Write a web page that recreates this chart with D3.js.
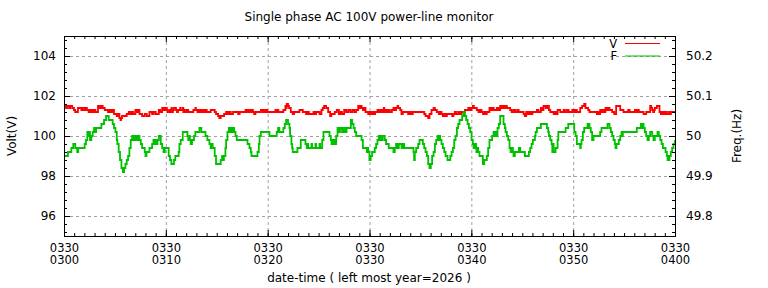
<!DOCTYPE html>
<html>
<head>
<meta charset="utf-8">
<script src="https://cdn.jsdelivr.net/npm/d3@7"></script>
<style>
  body { margin: 0; background: #fff; }
  text { font-family: "DejaVu Sans", sans-serif; font-size: 12px; fill: #000; }
  .xt, .lg { font-size: 11.5px; }
</style>
</head>
<body>
<svg id="chart" width="768" height="288"></svg>
<script>
// minutes after 03:00 -> value, sampled as steps
const voltSeries = [
  [0,101.5],[0.2,101.4],[0.3,101.5],[0.5,101.4],[0.6,101.5],[0.8,101.4],[0.98,101.3],[1.1,101.2],[1.37,101.4],[1.7,101.3],[1.8,101.4],[1.95,101.3],[2.1,101.4],[2.25,101.3],[2.42,101.2],[2.6,101.3],[2.75,101.2],[2.9,101.3],[3.08,101.2],[3.34,101.5],[3.5,101.4],[3.65,101.5],[3.8,101.4],[4.0,101.3],[4.32,101.2],[4.45,101.3],[4.6,101.2],[4.75,101.3],[4.91,101.1],[5.18,101.0],[5.3,101.1],[5.44,100.9],[5.55,100.8],[5.6,100.9],[5.7,101.0],[6.16,101.1],[6.36,101.2],[6.5,101.1],[6.65,101.2],[6.8,101.1],[7.01,101.3],[7.15,101.2],[7.3,101.3],[7.41,101.1],[7.67,101.0],[7.93,101.1],[8.13,101.0],[8.39,101.2],[8.65,101.1],[8.8,101.2],[9.0,101.1],[9.31,101.3],[9.45,101.2],[9.64,101.4],[9.8,101.3],[9.95,101.4],[10.1,101.3],
  [10.15,101.2],[10.34,101.3],[10.45,101.2],[10.55,101.4],[10.6,101.2],[10.7,101.3],[10.8,101.4],[11.0,101.3],[11.1,101.2],[11.2,101.3],[11.4,101.4],[11.45,101.3],[11.66,101.4],[11.72,101.2],[11.79,101.3],[11.95,101.2],[12.1,101.3],[12.2,101.2],[12.7,101.3],[12.9,101.4],[12.95,101.3],[13.1,101.2],[13.25,101.3],[13.4,101.2],[13.49,101.3],[13.6,101.2],[13.7,101.3],[13.8,101.2],[13.9,101.3],[14.02,101.2],[14.41,101.3],[14.8,101.2],[14.93,101.1],[15.13,101.0],[15.25,100.9],[15.39,101.0],[15.72,101.1],[15.92,101.2],[16.1,101.1],[16.25,101.2],[16.38,101.1],[16.6,101.2],[17.1,101.1],[17.25,101.2],[17.82,101.3],[17.95,101.2],[18.1,101.3],[18.25,101.2],[18.4,101.3],[18.55,101.2],[18.67,101.1],[18.8,101.2],[19.33,101.3],[19.52,101.2],[19.6,101.3],[19.72,101.2],
  [19.84,101.3],[19.95,101.2],[20.76,101.3],[20.85,101.2],[20.95,101.3],[21.05,101.2],[21.54,101.3],[21.74,101.5],[21.8,101.4],[21.87,101.6],[22.0,101.5],[22.1,101.4],[22.27,101.2],[22.46,101.1],[22.6,101.2],[23.12,101.3],[23.45,101.2],[23.77,101.1],[23.9,101.2],[24.05,101.1],[24.5,101.2],[24.6,101.1],[24.76,101.2],[25.09,101.1],[25.28,101.3],[25.41,101.4],[25.54,101.5],[25.74,101.4],[25.94,101.2],[26.13,101.0],[26.25,101.1],[26.59,101.2],[26.79,101.3],[26.99,101.1],[27.15,101.2],[27.3,101.1],[27.51,101.3],[27.7,101.2],[27.9,101.3],[28.1,101.2],[28.3,101.3],[28.5,101.2],[28.69,101.3],[28.89,101.5],[29.0,101.4],[29.1,101.5],[29.22,101.4],[29.35,101.3],[29.5,101.4],[29.61,101.2],[29.87,101.1],[30.0,101.2],[30.15,101.1],
  [30.3,101.2],[30.45,101.1],[30.55,101.2],[30.78,101.3],[30.9,101.2],[31.05,101.3],[31.17,101.2],[31.3,101.3],[31.4,101.4],[31.45,101.2],[31.6,101.3],[31.7,101.2],[31.83,101.3],[32.0,101.2],[32.2,101.3],[32.35,101.4],[32.5,101.3],[32.61,101.4],[32.75,101.5],[32.82,101.4],[33.01,101.3],[33.14,101.1],[33.27,101.2],[33.79,101.1],[33.95,101.2],[34.1,101.1],[34.25,101.2],[35.37,101.1],[35.5,101.0],[35.76,100.9],[35.89,101.1],[36.09,101.3],[36.29,101.4],[36.42,101.3],[36.61,101.2],[36.81,101.1],[36.95,101.2],[37.07,101.1],[37.2,101.0],[37.35,101.1],[37.5,101.0],[37.6,101.1],[38.12,101.0],[38.25,101.1],[38.38,101.2],[38.55,101.1],[38.75,101.2],[38.9,101.1],[39.04,101.2],[39.37,101.3],[39.7,101.4],[39.85,101.3],[40.02,101.4],[40.15,101.5],[40.25,101.4],
  [40.34,101.4],[40.54,101.3],[40.7,101.2],[40.85,101.3],[41.0,101.2],[41.15,101.1],[41.3,101.2],[41.4,101.1],[41.52,101.2],[41.78,101.4],[41.9,101.3],[42.05,101.4],[42.2,101.3],[42.5,101.4],[42.65,101.3],[42.83,101.5],[43.0,101.4],[43.15,101.5],[43.3,101.4],[43.4,101.5],[43.49,101.4],[43.81,101.3],[43.95,101.2],[44.14,101.3],[44.3,101.2],[44.5,101.3],[44.65,101.2],[45.13,101.1],[45.25,101.0],[45.39,101.2],[45.55,101.1],[45.7,101.2],[45.85,101.1],[46.0,101.2],[46.44,101.3],[46.6,101.2],[46.83,101.4],[46.95,101.3],[47.09,101.5],[47.3,101.4],[47.45,101.5],[47.62,101.3],[47.75,101.2],[48.08,101.1],[48.2,101.2],[48.35,101.1],[48.47,101.3],[48.73,101.2],[49.06,101.3],[49.2,101.2],[49.4,101.3],[49.55,101.2],[49.91,101.3],[50.05,101.2],[50.2,101.3],
  [50.36,101.2],[50.69,101.4],[50.88,101.5],[51.08,101.6],[51.21,101.4],[51.47,101.3],[51.6,101.2],[52.32,101.1],[52.45,101.2],[52.55,101.1],[52.65,101.3],[52.8,101.2],[52.95,101.3],[53.05,101.2],[53.17,101.4],[53.3,101.3],[53.45,101.4],[53.57,101.3],[53.83,101.2],[54.03,101.1],[54.22,101.5],[54.62,101.3],[54.94,101.2],[55.4,101.3],[55.55,101.2],[56.06,101.3],[56.2,101.2],[56.35,101.3],[56.45,101.2],[56.91,101.1],[57.17,101.2],[57.56,101.5],[57.66,101.4],[57.76,101.3],[57.85,101.2],[57.95,101.3],[58.02,101.4],[58.22,101.5],[58.48,101.2],[58.61,101.1],[58.75,101.2],[58.9,101.1],[59.0,101.2],[59.13,101.1],[59.33,101.2],[59.45,101.1],[59.6,101.2],[60,101.2]
];

const freqSeries = [
  [0,49.95],[0.39,49.96],[0.72,49.97],[0.91,49.98],[1.11,49.97],[1.3,49.96],[1.4,49.97],[2.03,49.98],[2.16,49.99],[2.29,50.01],[2.35,50.00],[2.4,50.01],[2.55,49.99],[2.69,50.00],[2.82,50.01],[2.95,50.02],[3.0,50.01],[3.05,50.02],[3.1,50.01],[3.15,50.02],[3.67,50.03],[3.93,50.04],[4.13,50.05],[4.39,50.04],[4.78,50.03],[4.91,50.02],[5.05,50.01],[5.18,49.99],[5.24,49.98],[5.37,49.96],[5.5,49.94],[5.64,49.92],[5.77,49.91],[5.9,49.92],[6.03,49.93],[6.16,49.94],[6.29,49.95],[6.42,49.97],[6.55,49.99],[6.69,50.00],[6.8,49.99],[6.9,50.00],[7.0,49.99],[7.1,50.00],[7.25,49.99],[7.3,50.00],[7.41,49.99],[7.54,49.98],[7.67,49.97],[7.93,49.96],[8.0,49.95],[8.1,49.96],[8.39,49.97],[8.65,49.98],[8.78,49.99],[8.85,49.98],[8.95,49.99],[9.05,49.98],[9.18,49.99],[9.31,50.00],[9.5,49.98],[9.64,49.97],[9.77,49.96],[9.9,49.97],
  [10.28,49.95],[10.41,49.94],[10.54,49.93],[10.8,49.94],[10.93,49.95],[11.26,49.96],[11.33,49.98],[11.46,49.99],[11.66,50.01],[12.12,50.00],[12.2,49.99],[12.28,50.00],[12.36,49.99],[12.44,49.98],[12.57,49.99],[12.77,50.00],[12.9,50.01],[13.3,50.02],[13.49,50.01],[13.89,50.00],[14.08,49.99],[14.28,49.98],[14.4,49.97],[14.5,49.98],[14.6,49.97],[14.8,49.95],[14.93,49.93],[15.39,49.94],[15.52,49.95],[15.6,49.94],[15.7,49.95],[15.85,49.97],[15.92,49.99],[16.05,50.01],[16.18,50.02],[16.3,50.01],[16.4,50.02],[16.55,50.01],[16.6,50.02],[16.7,50.01],[16.84,50.00],[16.97,49.99],[18.02,49.98],[18.21,49.97],[18.34,49.96],[18.41,49.95],[19.0,49.96],[19.13,49.98],[19.2,50.00],[19.33,50.01],[20.18,50.00],
  [20.89,50.01],[21.02,50.02],[21.15,50.01],[21.54,50.02],[21.68,50.03],[21.81,50.04],[22.0,50.03],[22.14,50.02],[22.2,50.00],[22.33,49.98],[22.4,49.97],[22.46,49.96],[22.92,49.97],[23.25,49.99],[23.71,49.98],[23.84,49.97],[23.9,49.98],[23.97,49.97],[24.3,49.98],[24.36,49.97],[24.69,49.98],[24.75,49.97],[25.09,49.98],[25.15,49.97],[25.35,49.99],[25.48,50.01],[26.07,50.00],[26.2,49.99],[26.27,49.98],[26.35,49.99],[26.45,49.98],[26.55,49.99],[26.65,49.98],[26.73,50.00],[26.86,50.02],[26.99,50.01],[27.1,50.02],[27.3,50.01],[27.45,50.02],[27.6,50.01],[27.75,50.02],[28.17,50.04],[28.3,50.03],[28.43,50.02],[28.56,50.01],[28.69,50.00],[29.22,49.99],[29.35,49.97],[29.74,49.96],[29.8,49.97],[29.87,49.96],
  [29.99,49.94],[30.12,49.95],[30.25,49.96],[30.52,49.97],[30.65,49.98],[30.78,49.99],[30.91,50.00],[31.0,49.99],[31.1,50.00],[31.2,49.99],[31.3,50.00],[31.5,49.99],[31.63,49.98],[31.89,49.97],[32.35,49.96],[32.48,49.97],[32.61,49.98],[32.75,49.97],[32.88,49.98],[33.14,49.97],[33.27,49.98],[33.4,49.97],[34.32,49.96],[34.38,49.94],[34.45,49.96],[34.58,49.97],[34.78,49.98],[34.91,49.99],[35.24,49.98],[35.37,49.97],[35.5,49.96],[35.63,49.95],[35.76,49.93],[35.89,49.92],[36.02,49.93],[36.15,49.95],[36.29,49.96],[36.42,49.98],[36.55,49.99],[36.68,50.00],[36.78,49.99],[36.86,50.00],[36.94,49.99],[37.07,49.98],[37.2,49.97],[37.34,49.96],[37.47,49.95],[37.66,49.94],[37.93,49.95],[38.06,49.96],[38.19,49.97],[38.32,49.99],[38.45,50.00],[38.58,50.02],[38.71,50.03],[38.84,50.04],[39.1,50.05],[39.24,50.06],[39.37,50.05],[39.5,50.04],[39.63,50.03],[39.76,50.02],[39.89,50.01],[40.02,49.99],
  [40.14,49.98],[40.22,49.97],[40.3,49.98],[40.47,49.97],[40.5,49.96],[40.54,49.97],[40.67,49.96],[40.8,49.95],[41.13,49.93],[41.26,49.94],[41.52,49.95],[41.65,49.97],[41.78,49.99],[42.04,50.00],[42.18,50.01],[42.3,50.00],[42.4,50.01],[42.5,50.00],[42.57,50.02],[42.7,50.03],[42.83,50.05],[43.16,50.03],[43.29,50.02],[43.36,50.01],[43.49,50.00],[43.62,49.99],[43.75,49.97],[43.85,49.96],[43.95,49.97],[44.08,49.96],[44.14,49.95],[44.27,49.96],[44.67,49.97],[44.8,49.96],[45.26,49.95],[45.65,49.96],[45.78,49.97],[45.91,49.98],[46.04,49.99],[46.24,50.00],[46.31,50.01],[46.44,50.02],[46.83,50.03],[47.42,50.02],[47.55,50.01],[47.62,50.00],[47.75,49.99],[47.88,49.98],[47.95,49.96],[48.02,49.98],[48.08,49.96],[48.27,49.97],[48.47,49.99],[48.54,50.01],[49.26,50.02],[49.52,50.03],[50.11,50.01],
  [50.24,50.00],[50.36,49.98],[50.69,49.97],[50.75,49.98],[50.82,49.99],[50.95,50.01],[51.08,50.02],[51.41,50.03],[51.5,50.02],[51.55,50.03],[51.6,50.02],[51.73,50.01],[51.86,49.99],[52.0,50.00],[52.65,50.01],[52.78,50.02],[53.37,50.03],[53.57,50.02],[53.7,50.01],[53.83,50.00],[53.96,49.99],[54.09,49.98],[54.16,49.97],[54.25,49.98],[54.48,49.99],[54.62,50.00],[54.75,50.01],[54.82,50.00],[54.88,50.01],[56.25,50.02],[56.65,50.03],[56.75,50.02],[56.82,50.03],[56.91,50.02],[57.04,50.01],[57.17,50.00],[57.3,49.99],[57.43,50.00],[57.56,50.01],[57.76,50.00],[57.89,49.99],[58.02,50.00],[58.28,50.01],[58.41,50.00],[58.55,49.99],[58.68,49.98],[58.81,49.97],[59.07,49.96],[59.2,49.95],[59.27,49.94],[59.33,49.95],[59.4,49.94],[59.46,49.95],[59.59,49.96],[59.72,49.97],[59.85,49.98],[60,49.99]
];

const voltTicks = [96, 98, 100, 102, 104];
const freqTicks = [49.8, 49.9, 50.0, 50.1, 50.2];
const chartTitle = 'Single phase AC 100V power-line monitor';
const xTitle = 'date-time ( left most year=2026 )';

const svg = d3.select('#chart');
const L = 64, R = 675, T = 36, B = 236;

const start = new Date(2026, 2, 30, 3, 0);
const toDate = m => new Date(start.getTime() + m * 60000);

const x = d3.scaleTime().domain([toDate(0), toDate(60)]).range([L, R]);
const y = d3.scaleLinear().domain([95, 105]).range([B, T]);
const y2 = d3.scaleLinear().domain([49.75, 50.25]).range([B, T]);

const majorX = d3.timeMinute.every(10).range(toDate(0), toDate(60.01));
const minorX = d3.timeMinute.every(1).range(toDate(0), toDate(60.01));
const minorY = d3.range(0, 25).map(i => 95.2 + i * 0.4);
const minorY2 = d3.range(0, 25).map(i => 49.76 + i * 0.02);

// grid
const grid = svg.append('g').attr('stroke', '#a0a0a0').attr('stroke-dasharray', '3,3');
grid.selectAll('.gx').data(majorX.slice(1, -1)).enter().append('line')
  .attr('x1', d => x(d) + 0.5).attr('x2', d => x(d) + 0.5)
  .attr('y1', T).attr('y2', B);
grid.selectAll('.gy').data(voltTicks).enter().append('line')
  .attr('x1', L).attr('x2', R)
  .attr('y1', d => Math.round(y(d)) + 0.5).attr('y2', d => Math.round(y(d)) + 0.5);

// series
svg.append('clipPath').attr('id', 'clip').append('rect')
  .attr('x', L).attr('y', T).attr('width', R - L).attr('height', B - T);

const voltLine = d3.line()
  .x(d => x(toDate(d[0]))).y(d => y(d[1]))
  .curve(d3.curveStepAfter);
const freqLine = d3.line()
  .x(d => x(toDate(d[0]))).y(d => y2(d[1]))
  .curve(d3.curveStepAfter);

const plot = svg.append('g').attr('clip-path', 'url(#clip)');
plot.append('path').datum(voltSeries).attr('d', voltLine)
  .attr('fill', 'none').attr('stroke', '#ff0000').attr('stroke-width', 1.8);
plot.append('path').datum(freqSeries).attr('d', freqLine)
  .attr('fill', 'none').attr('stroke', '#00c000').attr('stroke-width', 1.8);

// axes
function strip(g) {
  g.select('.domain').remove();
  g.selectAll('.tick line').attr('stroke', '#000');
}
const fmtDate = d3.timeFormat('%m%d');
const fmtTime = d3.timeFormat('%H%M');

const xAxis = svg.append('g').attr('transform', `translate(0,${B})`)
  .call(d3.axisBottom(x).tickValues(majorX).tickSize(-6).tickFormat(''))
  .call(strip);
xAxis.selectAll('.tick text').remove();
xAxis.selectAll('.tick').each(function (d) {
  const t = d3.select(this);
  t.append('text').attr('class', 'xt').attr('y', 15.5).attr('text-anchor', 'middle').text(fmtDate(d));
  t.append('text').attr('class', 'xt').attr('y', 28).attr('text-anchor', 'middle').text(fmtTime(d));
});
svg.append('g').attr('transform', `translate(0,${B})`)
  .call(d3.axisBottom(x).tickValues(minorX).tickSize(-3).tickFormat('')).call(strip);
svg.append('g').attr('transform', `translate(0,${T})`)
  .call(d3.axisTop(x).tickValues(majorX).tickSize(-6).tickFormat('')).call(strip);
svg.append('g').attr('transform', `translate(0,${T})`)
  .call(d3.axisTop(x).tickValues(minorX).tickSize(-3).tickFormat('')).call(strip);

const yAxis = svg.append('g').attr('transform', `translate(${L},0)`)
  .call(d3.axisLeft(y).tickValues(voltTicks).tickSize(-6).tickPadding(8).tickFormat(d3.format('d')))
  .call(strip);
yAxis.selectAll('.tick text').attr('font-family', null).attr('font-size', null).attr('dy', '0.25em');
svg.append('g').attr('transform', `translate(${L},0)`)
  .call(d3.axisLeft(y).tickValues(minorY).tickSize(-3).tickFormat('')).call(strip);

const y2Axis = svg.append('g').attr('transform', `translate(${R},0)`)
  .call(d3.axisRight(y2).tickValues(freqTicks).tickSize(-6).tickPadding(11).tickFormat(d => d === 50 ? '50' : d3.format('.1f')(d)))
  .call(strip);
y2Axis.selectAll('.tick text').attr('font-family', null).attr('font-size', null).attr('dy', '0.25em');
svg.append('g').attr('transform', `translate(${R},0)`)
  .call(d3.axisRight(y2).tickValues(minorY2).tickSize(-3).tickFormat('')).call(strip);

// border
svg.append('rect').attr('x', L + 0.5).attr('y', T + 0.5)
  .attr('width', R - L).attr('height', B - T)
  .attr('fill', 'none').attr('stroke', '#000');

// titles
svg.append('text').attr('x', 369).attr('y', 21).attr('text-anchor', 'middle').text(chartTitle);
svg.append('text').attr('x', 369).attr('y', 282).attr('text-anchor', 'middle').text(xTitle);
svg.append('text').attr('transform', 'translate(16,136) rotate(-90)')
  .attr('text-anchor', 'middle').text('Volt(V)');
svg.append('text').attr('transform', 'translate(741,136) rotate(-90)')
  .attr('text-anchor', 'middle').text('Freq.(Hz)');

// legend
const legend = [['V', '#ff0000', 43.5], ['F', '#00c000', 56]];
const lg = svg.append('g');
lg.selectAll('text').data(legend).enter().append('text')
  .attr('class', 'lg')
  .attr('x', 617).attr('y', d => d[2] + 4).attr('text-anchor', 'end').text(d => d[0]);
lg.selectAll('line').data(legend).enter().append('line')
  .attr('x1', 625).attr('x2', 660).attr('y1', d => d[2]).attr('y2', d => d[2])
  .attr('stroke', d => d[1]).attr('stroke-width', 1.2);
</script>
</body>
</html>
